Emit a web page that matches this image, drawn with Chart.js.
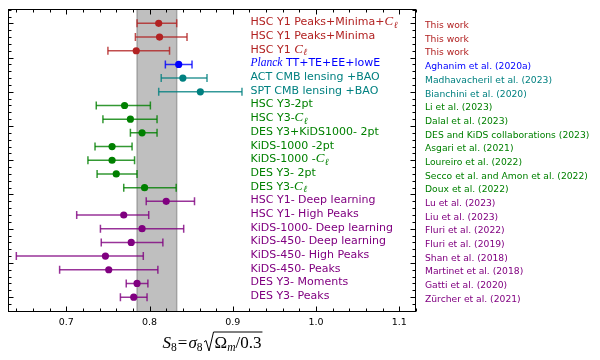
<!DOCTYPE html>
<html><head><meta charset="utf-8">
<script src="https://cdn.jsdelivr.net/npm/chart.js@4/dist/chart.umd.min.js"></script>
<style>html,body{margin:0;padding:0;background:#fff}#c{display:block}</style>
</head><body>
<canvas id="c" width="600" height="360"></canvas>
<script>
// ---- data ----
const labels = [
  "HSC Y1 Peaks+Minima+Cℓ", "HSC Y1 Peaks+Minima", "HSC Y1 Cℓ",
  "Planck TT+TE+EE+lowE", "ACT CMB lensing +BAO", "SPT CMB lensing +BAO",
  "HSC Y3-2pt", "HSC Y3-Cℓ", "DES Y3+KiDS1000- 2pt", "KiDS-1000 -2pt",
  "KiDS-1000 -Cℓ", "DES Y3- 2pt", "DES Y3-Cℓ",
  "HSC Y1- Deep learning", "HSC Y1- High Peaks", "KiDS-1000- Deep learning",
  "KiDS-450- Deep learning", "KiDS-450- High Peaks", "KiDS-450- Peaks",
  "DES Y3- Moments", "DES Y3- Peaks"
];
const refs = [
  "This work", "This work", "This work", "Aghanim et al. (2020a)",
  "Madhavacheril et al. (2023)", "Bianchini et al. (2020)", "Li et al. (2023)",
  "Dalal et al. (2023)", "DES and KiDS collaborations (2023)", "Asgari et al. (2021)",
  "Loureiro et al. (2022)", "Secco et al. and Amon et al. (2022)", "Doux et al. (2022)",
  "Lu et al. (2023)", "Liu et al. (2023)", "Fluri et al. (2022)", "Fluri et al. (2019)",
  "Shan et al. (2018)", "Martinet et al. (2018)", "Gatti et al. (2020)", "Zürcher et al. (2021)"
];
const s8 = [0.811, 0.812, 0.784, 0.835, 0.840, 0.861, 0.770, 0.777, 0.791, 0.755,
  0.755, 0.760, 0.794, 0.820, 0.769, 0.791, 0.778, 0.747, 0.751, 0.785, 0.781];
const s8Low = [0.785, 0.783, 0.750, 0.819, 0.814, 0.811, 0.736, 0.744, 0.777, 0.7345,
  0.726, 0.737, 0.769, 0.796, 0.7125, 0.741, 0.742, 0.640, 0.692, 0.772, 0.765];
const s8High = [0.8326, 0.845, 0.824, 0.851, 0.869, 0.911, 0.801, 0.809, 0.809, 0.779,
  0.782, 0.785, 0.832, 0.854, 0.799, 0.841, 0.816, 0.7925, 0.810, 0.798, 0.797];
const rowGroup = ["work","work","work","planck","cmb","cmb",
  "tpt","tpt","tpt","tpt","tpt","tpt","tpt",
  "hos","hos","hos","hos","hos","hos","hos","hos"];
const xTicks = [0.7, 0.8, 0.9, 1.0, 1.1];

// ---- styles ----
const groupColor = {work:"178,34,34", planck:"0,0,255", cmb:"0,128,128", tpt:"0,128,0", hos:"128,0,128"};
const SANS = '"DejaVu Sans"';
const SERIF = '"Liberation Serif"';

const datasets = [];
labels.forEach((_, i) => {
  const c = groupColor[rowGroup[i]];
  datasets.push({
    data: [{x: s8Low[i], y: i}, {x: s8High[i], y: i}],
    showLine: true, borderColor: `rgba(${c},0.8)`, borderWidth: 1.5,
    pointStyle: 'line', pointRotation: 90, pointRadius: 4, pointHoverRadius: 4,
    pointBorderColor: `rgba(${c},0.8)`, pointBorderWidth: 1.5, order: 2
  });
});
Object.keys(groupColor).forEach(g => {
  const c = groupColor[g];
  datasets.push({
    data: labels.map((_, i) => i).filter(i => rowGroup[i] === g).map(i => ({x: s8[i], y: i})),
    showLine: false, pointRadius: 3.6, pointHoverRadius: 3.6, pointBorderWidth: 0,
    backgroundColor: `rgb(${c})`, pointBackgroundColor: `rgb(${c})`, order: 0
  });
});

function drawRich(ctx, text, x, y, color) {
  ctx.fillStyle = color;
  ctx.textBaseline = 'alphabetic';
  ctx.textAlign = 'left';
  const parts = text.split(/(Cℓ|Planck)/);
  for (const p of parts) {
    if (!p) continue;
    if (p === 'Cℓ') {
      ctx.font = `italic 13px ${SERIF}`;
      ctx.fillText('C', x, y); x += ctx.measureText('C').width + 0.5;
      ctx.font = `italic 9.5px ${SERIF}`;
      ctx.fillText('ℓ', x, y + 2.5); x += ctx.measureText('ℓ').width;
    } else if (p === 'Planck') {
      ctx.font = `italic 11.5px ${SERIF}`;
      ctx.fillText(p, x, y); x += ctx.measureText(p).width;
    } else {
      ctx.font = `11px ${SANS}`;
      ctx.fillText(p, x, y); x += ctx.measureText(p).width;
    }
  }
}

function drawTitle(ctx, cx, by) {
  const pieces = [
    {t:'S', f:`italic 17px ${SERIF}`, dy:0},
    {t:'8', f:`11.5px ${SERIF}`, dy:3},
    {t:'=', f:`17px ${SERIF}`, dy:0, pl:1, pr:1},
    {t:'σ', f:`italic 17px ${SERIF}`, dy:0},
    {t:'8', f:`11.5px ${SERIF}`, dy:3},
    {rad:true, w:12},
    {t:'Ω', f:`17px ${SERIF}`, dy:0},
    {t:'m', f:`italic 11.5px ${SERIF}`, dy:3},
    {t:'/0.3', f:`17px ${SERIF}`, dy:0}
  ];
  let total = 0;
  for (const p of pieces) {
    if (p.rad) { total += p.w; continue; }
    ctx.font = p.f; p.w = ctx.measureText(p.t).width + (p.pl||0) + (p.pr||0); total += p.w;
  }
  let x = cx - total / 2;
  let radX = 0;
  ctx.fillStyle = '#000'; ctx.textBaseline = 'alphabetic'; ctx.textAlign = 'left';
  for (const p of pieces) {
    if (p.rad) { radX = x; x += p.w; continue; }
    ctx.font = p.f; ctx.fillText(p.t, x + (p.pl||0), by + p.dy); x += p.w;
  }
  ctx.strokeStyle = '#000'; ctx.lineWidth = 1;
  ctx.beginPath();
  ctx.moveTo(radX + 1.5, by - 6);
  ctx.lineTo(radX + 3.5, by - 7.5);
  ctx.lineTo(radX + 6.5, by + 3);
  ctx.lineTo(radX + 11, by - 16);
  ctx.lineTo(x + 1, by - 16);
  ctx.stroke();
}

const decor = {
  id: 'decor',
  beforeDatasetsDraw(chart) {
    const {ctx, chartArea: a, scales: {x}} = chart;
    const x0 = x.getPixelForValue(s8Low[0]), x1 = x.getPixelForValue(s8High[0]);
    ctx.save();
    ctx.fillStyle = 'rgba(128,128,128,0.5)';
    ctx.fillRect(x0, a.top, x1 - x0, a.bottom - a.top);
    ctx.strokeStyle = 'rgba(128,128,128,0.6)'; ctx.lineWidth = 1.5;
    ctx.beginPath();
    ctx.moveTo(x0, a.top); ctx.lineTo(x0, a.bottom);
    ctx.moveTo(x1, a.top); ctx.lineTo(x1, a.bottom);
    ctx.stroke();
    ctx.restore();
  },
  afterDraw(chart) {
    const {ctx, chartArea: a, scales: {x, y}} = chart;
    ctx.save();
    ctx.strokeStyle = '#000'; ctx.lineWidth = 1;
    const L = Math.round(a.left) + 0.5, R = Math.round(a.right) - 0.5;
    const T = Math.round(a.top) + 0.5, B = Math.round(a.bottom) - 0.5;
    ctx.strokeRect(L, T, R - L, B - T);
    ctx.beginPath();
    for (let k = 32; k <= 56; k++) {
      const v = k / 50;
      if (v < x.min || v > x.max) continue;
      const major = xTicks.some(t => Math.abs(t - v) < 1e-9);
      const len = major ? 5 : 3;
      const px = Math.round(x.getPixelForValue(v)) + 0.5;
      ctx.moveTo(px, B); ctx.lineTo(px, B - len);
      ctx.moveTo(px, T); ctx.lineTo(px, T + len);
    }
    for (let k = -2; k <= 42; k++) {
      const v = k / 2;
      if (v < y.min || v > y.max) continue;
      const major = k % 5 === 0;
      const len = major ? 5 : 3;
      const py = Math.round(y.getPixelForValue(v)) + 0.5;
      ctx.moveTo(L, py); ctx.lineTo(L + len, py);
      ctx.moveTo(R, py); ctx.lineTo(R - len, py);
    }
    ctx.stroke();
    labels.forEach((lab, i) => {
      const py = y.getPixelForValue(i);
      const col = `rgb(${groupColor[rowGroup[i]]})`;
      drawRich(ctx, lab, 250.5, py + 2, col);
      ctx.font = `9.2px ${SANS}`;
      ctx.fillStyle = col;
      ctx.fillText(refs[i], 425, py + 4.7);
    });
    drawTitle(ctx, (a.left + a.right) / 2, 348);
    ctx.restore();
  }
};

new Chart(document.getElementById('c'), {
  type: 'scatter',
  data: {datasets},
  options: {
    responsive: false, animation: false, devicePixelRatio: 1,
    layout: {padding: {left: 8, top: 9, right: 184, bottom: 0}},
    plugins: {legend: {display: false}, tooltip: {enabled: false}},
    events: [],
    scales: {
      x: {
        type: 'linear', min: 0.63, max: 1.12,
        afterBuildTicks: s => { s.ticks = xTicks.map(v => ({value: v})); },
        afterFit: s => { s.height = 48.5; },
        ticks: {font: {family: 'DejaVu Sans', size: 9.5}, color: '#000', padding: 5,
                autoSkip: false, maxRotation: 0, callback: v => Number(v).toFixed(1)},
        grid: {display: false, drawTicks: false},
        border: {display: false}
      },
      y: {type: 'linear', reverse: true, min: -1.05, max: 21.05, display: false}
    }
  },
  plugins: [decor]
});
</script>
</body></html>
